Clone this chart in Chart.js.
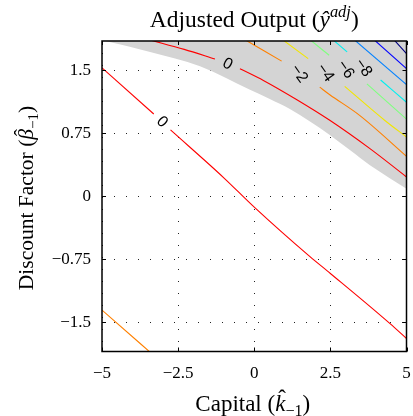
<!DOCTYPE html>
<html><head><meta charset="utf-8">
<script src="https://cdn.jsdelivr.net/npm/chart.js@4"></script>
<style>html,body{margin:0;padding:0;background:#fff}#wrap{width:413px;height:416px;position:relative}</style>
</head><body><div id="wrap"><canvas id="c"></canvas></div>
<script>
// ---- axes ----
const xTicks = [-5, -2.5, 0, 2.5, 5];
const xTickLabels = ['\u22125', '\u22122.5', '0', '2.5', '5'];
const yTicks = [-1.5, -0.75, 0, 0.75, 1.5];
const yTickLabels = ['\u22121.5', '\u22120.75', '0', '0.75', '1.5'];
const xRange = [-5, 5];
const yRange = [-1.85, 1.85];

// ---- shaded region boundary (region above/right is gray) ----
const shadeBoundary = [[-5,1.86],[-3.42,1.72],[-1.78,1.55],[-0.14,1.27],[0.51,1.16],[1.17,1.04],[1.83,0.89],[2.48,0.73],[3.14,0.55],[3.8,0.369],[4.45,0.215],[5,0.09]];

// ---- contour segments (level value -> polyline pieces) ----
const level0LowerA = [[-5,1.53],[-3.3,0.98]];
const level0LowerB = [[-2.75,0.79],[-1,0.22],[0,-0.13],[1.83,-0.72],[2.5,-0.92],[4.45,-1.515],[5,-1.695]];
const level0UpperA = [[-3.4,1.86],[-2.3,1.75],[-1.29,1.635]];
const level0UpperB = [[-0.47,1.52],[0.3,1.38],[1.4,1.15],[2.48,0.905],[3.8,0.567],[5,0.23]];
const levelPos2 = [[-5,-1.357],[-3.4,-1.865]];
const levelNeg2A = [[-0.28,1.86],[0.9,1.61]];
const levelNeg2B = [[2.15,1.30],[2.48,1.21],[3.46,0.964],[5,0.476]];
const levelNeg4A = [[0.95,1.86],[1.77,1.64]];
const levelNeg4B = [[2.97,1.31],[4.3,0.9],[5,0.706]];
const levelNeg6A = [[1.85,1.86],[2.46,1.68]];
const levelNeg6B = [[3.7,1.34],[5,0.92]];
const levelNeg8A = [[2.6,1.86],[3.05,1.72]];
const levelNeg8B = [[4.15,1.385],[5,1.12]];
const levelNeg10 = [[3.3,1.86],[5,1.33]];
const levelNeg12 = [[3.95,1.86],[5,1.52]];
const levelNeg14 = [[4.6,1.86],[5,1.70]];

// ---- contour labels ----
const labelTexts = ['0', '0', '\u22122', '\u22124', '\u22126', '\u22128'];
const labelX = [-3.03, -0.88, 1.47, 2.33, 3.0, 3.58];
const labelY = [0.885, 1.575, 1.46, 1.47, 1.51, 1.53];
const labelAngle = [45, 28, 55, 55, 55, 55];

// ---- colours ----
const colRed = '#ff0000', colOrange = '#ff8000', colYellow = '#f2e600', colGreen = '#80ff80',
      colCyan = '#00f0f0', colAzure = '#0080ff', colBlue = '#0000ff', colNavy = '#000080';

const toPts = a => a.map(([x, y]) => ({x, y}));
function lineDs(pts, color) {
  return {data: toPts(pts), showLine: true, borderColor: color, borderWidth: 1.1, pointRadius: 0,
          fill: false, cubicInterpolationMode: 'monotone'};
}

const datasets = [
  lineDs(level0LowerA, colRed), lineDs(level0LowerB, colRed),
  lineDs(level0UpperA, colRed), lineDs(level0UpperB, colRed),
  lineDs(levelPos2, colOrange),
  lineDs(levelNeg2A, colOrange), lineDs(levelNeg2B, colOrange),
  lineDs(levelNeg4A, colYellow), lineDs(levelNeg4B, colYellow),
  lineDs(levelNeg6A, colGreen), lineDs(levelNeg6B, colGreen),
  lineDs(levelNeg8A, colCyan), lineDs(levelNeg8B, colCyan),
  lineDs(levelNeg10, colAzure), lineDs(levelNeg12, colBlue), lineDs(levelNeg14, colNavy),
  {data: toPts(shadeBoundary), showLine: true, borderWidth: 0, borderColor: 'rgba(0,0,0,0)', pointRadius: 0,
   fill: 'end', backgroundColor: '#d4d4d4', cubicInterpolationMode: 'monotone'}
];

const SERIF = '"Liberation Serif", "DejaVu Serif", serif';

function drawRich(ctx, parts, x, y, size, angle) {
  ctx.save();
  ctx.translate(x, y);
  ctx.rotate(angle);
  ctx.textBaseline = 'alphabetic';
  ctx.fillStyle = '#000';
  const fontOf = p => `${p.i ? 'italic ' : ''}${size * (p.s || 1)}px ${SERIF}`;
  let total = 0;
  const widths = parts.map(p => { ctx.font = fontOf(p); const w = ctx.measureText(p.t).width; total += w; return w; });
  let cx = -total / 2;
  parts.forEach((p, k) => {
    const fs = size * (p.s || 1);
    const by = -(p.r || 0) * size;
    ctx.font = fontOf(p);
    ctx.textAlign = 'left';
    ctx.fillText(p.t, cx, by);
    if (p.hat !== undefined) {
      ctx.font = `${fs}px ${SERIF}`;
      ctx.textAlign = 'center';
      ctx.fillText('\u02C6', cx + widths[k] / 2 + fs * 0.08, by - fs * p.hat);
    }
    cx += widths[k];
  });
  ctx.restore();
}

const decor = {
  id: 'decor',
  afterDatasetsDraw(chart) {
    const ctx = chart.ctx, xs = chart.scales.x, ys = chart.scales.y;
    ctx.save();
    ctx.font = `16px "Liberation Sans", Arial, sans-serif`;
    ctx.fillStyle = '#000';
    ctx.textAlign = 'center';
    ctx.textBaseline = 'middle';
    labelTexts.forEach((t, i) => {
      ctx.save();
      ctx.translate(xs.getPixelForValue(labelX[i]), ys.getPixelForValue(labelY[i]));
      ctx.rotate(labelAngle[i] * Math.PI / 180);
      ctx.fillText(t, 0, 0);
      ctx.restore();
    });
    ctx.restore();
  },
  afterDraw(chart) {
    const ctx = chart.ctx, a = chart.chartArea, xs = chart.scales.x, ys = chart.scales.y;
    ctx.save();
    ctx.strokeStyle = '#000';
    ctx.lineWidth = 1;
    const tl = 4;
    ctx.beginPath();
    xTicks.forEach(v => {
      const px = Math.round(xs.getPixelForValue(v)) + 0.5;
      ctx.moveTo(px, a.bottom); ctx.lineTo(px, a.bottom - tl);
      ctx.moveTo(px, a.top); ctx.lineTo(px, a.top + tl);
    });
    yTicks.forEach(v => {
      const py = Math.round(ys.getPixelForValue(v)) + 0.5;
      ctx.moveTo(a.left, py); ctx.lineTo(a.left + tl, py);
      ctx.moveTo(a.right, py); ctx.lineTo(a.right - tl, py);
    });
    ctx.stroke();
    ctx.lineWidth = 1.5;
    ctx.strokeRect(a.left, a.top, a.right - a.left, a.bottom - a.top);
    ctx.restore();

    const cxm = (a.left + a.right) / 2;
    drawRich(ctx, [{t: 'Adjusted Output ('}, {t: '\u0177', i: 1}, {t: 'adj', i: 1, s: 0.7, r: 0.42}, {t: ')'}],
      cxm, 26.5, 23.5, 0);
    drawRich(ctx, [{t: 'Capital ('}, {t: 'k', i: 1, hat: 0.2}, {t: '\u22121', s: 0.7, r: -0.22}, {t: ')'}],
      cxm - 1.5, 410.5, 23, 0);
    drawRich(ctx, [{t: 'Discount Factor ('}, {t: '\u03B2', i: 1, hat: 0.2}, {t: '\u22121', s: 0.7, r: -0.22}, {t: ')'}],
      33, 198, 21.5, -Math.PI / 2);
  }
};

new Chart(document.getElementById('c'), {
  type: 'scatter',
  data: {datasets},
  options: {
    responsive: true, maintainAspectRatio: false, animation: false,
    layout: {padding: {top: 41, right: 6.5, left: 0, bottom: 0}},
    plugins: {legend: {display: false}, tooltip: {enabled: false}, title: {display: false}},
    scales: {
      x: {
        type: 'linear', min: xRange[0], max: xRange[1], z: 1,
        afterBuildTicks: s => { s.ticks = xTicks.map(v => ({value: v})); },
        afterFit: s => { s.height = 64.5; s.paddingLeft = 0; s.paddingRight = 0; },
        grid: {color: '#222', lineWidth: 1, drawTicks: false},
        border: {display: false, dash: [1, 11]},
        ticks: {padding: 12, color: '#000', font: {family: SERIF, size: 17},
          maxRotation: 0, autoSkip: false,
          callback: v => xTickLabels[xTicks.indexOf(v)]}
      },
      y: {
        type: 'linear', min: yRange[0], max: yRange[1], z: 1,
        afterBuildTicks: s => { s.ticks = yTicks.map(v => ({value: v})); },
        afterFit: s => { s.width = 102; s.paddingTop = 0; s.paddingBottom = 0; },
        grid: {color: '#222', lineWidth: 1, drawTicks: false},
        border: {display: false, dash: [1, 11]},
        ticks: {padding: 11, color: '#000', font: {family: SERIF, size: 17}, autoSkip: false,
          callback: v => yTickLabels[yTicks.indexOf(v)]}
      }
    }
  },
  plugins: [decor]
});
</script></body></html>
